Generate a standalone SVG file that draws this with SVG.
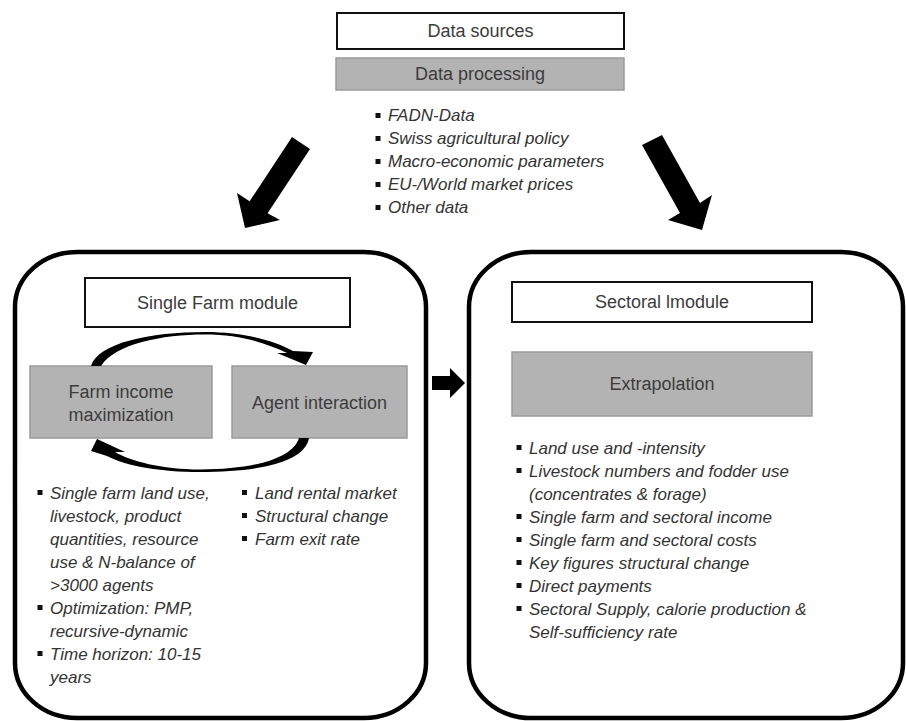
<svg xmlns="http://www.w3.org/2000/svg" width="906" height="721" viewBox="0 0 906 721">
<style>
.bg{fill:#ffffff}
.wbox{fill:#ffffff;stroke:#111;stroke-width:2}
.gbox{fill:#b3b3b3;stroke:#9a9a9a;stroke-width:1.5}
.cont{fill:none;stroke:#000;stroke-width:4.5}
.lbl{font-family:"Liberation Sans",Arial,sans-serif;font-size:18px;fill:#3c3c3c;text-anchor:middle}
.it{font-family:"Liberation Sans",Arial,sans-serif;font-size:17px;font-style:italic;fill:#333}
.bul{fill:#111}
.arr{fill:#000}
</style>
<rect class="bg" x="0" y="0" width="906" height="721"/>

<g id="data-sources">
<rect class="wbox" x="337" y="13" width="287" height="36"/>
<text class="lbl" x="480.5" y="37">Data sources</text>
</g>
<g id="data-processing">
<rect class="gbox" x="336" y="58" width="288" height="32"/>
<text class="lbl" x="480" y="80">Data processing</text>
</g>
<g id="data-list">
<rect class="bul" x="375.5" y="113" width="5" height="5"/>
<rect class="bul" x="375.5" y="136" width="5" height="5"/>
<rect class="bul" x="375.5" y="159" width="5" height="5"/>
<rect class="bul" x="375.5" y="182" width="5" height="5"/>
<rect class="bul" x="375.5" y="205" width="5" height="5"/>
<text class="it" x="388" y="121">FADN-Data</text>
<text class="it" x="388" y="144">Swiss agricultural policy</text>
<text class="it" x="388" y="167">Macro-economic parameters</text>
<text class="it" x="388" y="190">EU-/World market prices</text>
<text class="it" x="388" y="213">Other data</text>
</g>

<g id="single-farm-container">
<rect class="cont" x="15" y="252" width="411" height="466" rx="62" ry="55"/>
</g>
<g id="single-farm-module">
<rect class="wbox" x="85" y="278" width="265" height="49"/>
<text class="lbl" x="217.5" y="309">Single Farm module</text>
</g>
<g id="farm-income">
<rect class="gbox" x="30" y="366" width="182" height="72"/>
<text class="lbl" x="121" y="398">Farm income</text>
<text class="lbl" x="121" y="421">maximization</text>
</g>
<g id="agent-interaction">
<rect class="gbox" x="232" y="366" width="175" height="72"/>
<text class="lbl" x="319.5" y="409">Agent interaction</text>
</g>
<g id="farm-list">
<rect class="bul" x="37.5" y="490" width="5" height="5"/>
<rect class="bul" x="37.5" y="605" width="5" height="5"/>
<rect class="bul" x="37.5" y="651" width="5" height="5"/>
<text class="it" x="50" y="499">Single farm land use,</text>
<text class="it" x="50" y="522">livestock, product</text>
<text class="it" x="50" y="545">quantities, resource</text>
<text class="it" x="50" y="568">use &amp; N-balance of</text>
<text class="it" x="50" y="591">&gt;3000 agents</text>
<text class="it" x="50" y="614">Optimization: PMP,</text>
<text class="it" x="50" y="637">recursive-dynamic</text>
<text class="it" x="50" y="660">Time horizon: 10-15</text>
<text class="it" x="50" y="683">years</text>
</g>
<g id="agent-list">
<rect class="bul" x="242" y="490" width="5" height="5"/>
<rect class="bul" x="242" y="513" width="5" height="5"/>
<rect class="bul" x="242" y="536" width="5" height="5"/>
<text class="it" x="255" y="499">Land rental market</text>
<text class="it" x="255" y="522">Structural change</text>
<text class="it" x="255" y="545">Farm exit rate</text>
</g>

<g id="sectoral-container">
<rect class="cont" x="469" y="252" width="434" height="466" rx="62" ry="55"/>
</g>
<g id="sectoral-module">
<rect class="wbox" x="512" y="282" width="300" height="40"/>
<text class="lbl" x="662" y="308">Sectoral lmodule</text>
</g>
<g id="extrapolation">
<rect class="gbox" x="512" y="352" width="300" height="64"/>
<text class="lbl" x="662" y="390">Extrapolation</text>
</g>
<g id="sectoral-list">
<rect class="bul" x="516.5" y="445" width="5" height="5"/>
<rect class="bul" x="516.5" y="468" width="5" height="5"/>
<rect class="bul" x="516.5" y="514" width="5" height="5"/>
<rect class="bul" x="516.5" y="537" width="5" height="5"/>
<rect class="bul" x="516.5" y="560" width="5" height="5"/>
<rect class="bul" x="516.5" y="583" width="5" height="5"/>
<rect class="bul" x="516.5" y="606" width="5" height="5"/>
<text class="it" x="529" y="454">Land use and -intensity</text>
<text class="it" x="529" y="477">Livestock numbers and fodder use</text>
<text class="it" x="529" y="500">(concentrates &amp; forage)</text>
<text class="it" x="529" y="523">Single farm and sectoral income</text>
<text class="it" x="529" y="546">Single farm and sectoral costs</text>
<text class="it" x="529" y="569">Key figures structural change</text>
<text class="it" x="529" y="592">Direct payments</text>
<text class="it" x="529" y="615">Sectoral Supply, calorie production &amp;</text>
<text class="it" x="529" y="638">Self-sufficiency rate</text>
</g>

<g id="connectors">
<polygon class="arr" points="292,137 310,149 267.6,213.3 280,220 245,228 237,193 249.6,201.3"/>
<polygon class="arr" points="642,145 662,135 700,203 712,195 702,230 668,220 680,213"/>
<polygon class="arr" points="432,376 450,376 450,368 465,383 450,398 450,390 432,390"/>
<path class="arr" d="M 91,366 C 98,343 150,332 205,332 C 245,332 274,341 293,351 L 313,352 L 306,365 L 277,353 L 287,353 C 266,343 240,334.5 205,334.5 C 162,334.5 115,344 101,366 Z"/>
<path class="arr" d="M 309,438 C 305,462 260,472 200,472 C 160,472 126,466 107,456 L 91,451 L 97,439 L 125,452 L 115,452 C 130,461 162,469.5 200,469.5 C 255,469.5 293,458 299,438 Z"/>
</g>
</svg>
